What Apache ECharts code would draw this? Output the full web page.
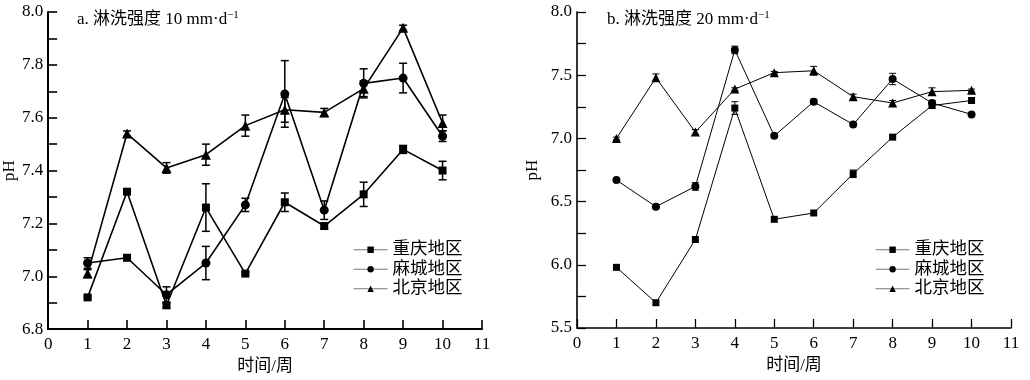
<!DOCTYPE html>
<html>
<head>
<meta charset="utf-8">
<script src="https://cdn.jsdelivr.net/npm/echarts@6/dist/echarts.min.js"></script>
<style>html,body{margin:0;padding:0;background:#fff}#c{width:1030px;height:380px}</style>
</head>
<body>
<div id="c"></div>
<script>
// ---- data ----
var weeks = [1, 2, 3, 4, 5, 6, 7, 8, 9, 10];
var seriesNames = ['重庆地区', '麻城地区', '北京地区'];
var xTicks = [0, 1, 2, 3, 4, 5, 6, 7, 8, 9, 10, 11];

// panel a: 10 mm/d
var a_cq = [6.92, 7.32, 6.89, 7.26, 7.01, 7.28, 7.19, 7.31, 7.48, 7.40];
var a_cq_err = [0.005, 0.005, 0.01, 0.09, 0.005, 0.035, 0.01, 0.046, 0.015, 0.035];
var a_mc = [7.05, 7.07, 6.93, 7.05, 7.27, 7.69, 7.25, 7.73, 7.75, 7.53];
var a_mc_err = [0.02, 0.01, 0.03, 0.063, 0.025, 0.126, 0.035, 0.055, 0.056, 0.02];
var a_bj = [7.01, 7.54, 7.41, 7.46, 7.57, 7.63, 7.62, 7.71, 7.94, 7.58];
var a_bj_err = [0.015, 0.01, 0.02, 0.04, 0.04, 0.047, 0.015, 0.03, 0.01, 0.03];

// panel b: 20 mm/d
var b_cq = [5.98, 5.70, 6.20, 7.24, 6.36, 6.41, 6.72, 7.01, 7.26, 7.30];
var b_cq_err = [0, 0, 0, 0.05, 0, 0, 0.03, 0.01, 0.02, 0];
var b_mc = [6.67, 6.46, 6.62, 7.70, 7.02, 7.29, 7.11, 7.47, 7.28, 7.19];
var b_mc_err = [0, 0.01, 0.03, 0.03, 0.01, 0.02, 0, 0.045, 0.02, 0];
var b_bj = [7.00, 7.48, 7.05, 7.39, 7.52, 7.535, 7.33, 7.28, 7.37, 7.38];
var b_bj_err = [0.01, 0.03, 0.02, 0.01, 0.01, 0.035, 0.02, 0.02, 0.03, 0.01];

// ---- chart ----
var FONT = "'Liberation Serif','Noto Sans CJK SC',serif";
var symbols = ['rect', 'circle', 'triangle'];

function pairs(vals) { return weeks.map(function (w, i) { return [w, vals[i]]; }); }
function errData(vals, errs) { return weeks.map(function (w, i) { return [w, vals[i], errs[i]]; }); }

function errSeries(name, vals, errs, gi, capHalf, lw) {
  return {
    type: 'custom', name: name + ' 误差', xAxisIndex: gi, yAxisIndex: gi, z: 3,
    silent: true, legendHoverLink: false,
    data: errData(vals, errs),
    renderItem: function (params, api) {
      var x = api.value(0), y = api.value(1), e = api.value(2);
      if (!e) return null;
      var t = api.coord([x, y + e]), b = api.coord([x, y - e]);
      var st = { stroke: '#000', lineWidth: lw };
      return {
        type: 'group', children: [
          { type: 'line', shape: { x1: t[0], y1: t[1], x2: b[0], y2: b[1] }, style: st },
          { type: 'line', shape: { x1: t[0] - capHalf, y1: t[1], x2: t[0] + capHalf, y2: t[1] }, style: st },
          { type: 'line', shape: { x1: b[0] - capHalf, y1: b[1], x2: b[0] + capHalf, y2: b[1] }, style: st }
        ]
      };
    }
  };
}

function lineSeries(name, vals, gi, si, lw, sizes) {
  return {
    type: 'line', name: name, xAxisIndex: gi, yAxisIndex: gi, z: 4,
    data: pairs(vals), symbol: symbols[si], symbolSize: sizes[si],
    showAllSymbol: true,
    lineStyle: { color: '#000', width: lw },
    itemStyle: { color: '#000', borderWidth: 0 },
    emphasis: { disabled: true }, animation: false
  };
}

var linesA = [], linesB = [], errs = [];
var aVals = [a_cq, a_mc, a_bj], aErr = [a_cq_err, a_mc_err, a_bj_err];
var bVals = [b_cq, b_mc, b_bj], bErr = [b_cq_err, b_mc_err, b_bj_err];
for (var s = 0; s < 3; s++) {
  linesA.push(lineSeries(seriesNames[s], aVals[s], 0, s, 1.6, [8, 9, 10]));
  linesB.push(lineSeries(seriesNames[s], bVals[s], 1, s, 1, [7, 8, 9]));
  errs.push(errSeries(seriesNames[s], aVals[s], aErr[s], 0, 4, 1.5));
  errs.push(errSeries(seriesNames[s], bVals[s], bErr[s], 1, 3.5, 1));
}
// in the reference, the week-2 point of the 麻城 curve in panel a is drawn with a square marker
linesA[1].data[1] = { value: linesA[1].data[1], symbol: 'rect', symbolSize: 8 };
var seriesList = linesA.concat(linesB, errs);

function xAxisCfg(gi, lw) {
  return {
    type: 'value', gridIndex: gi, min: 0, max: 11, interval: 1,
    name: '时间/周', nameLocation: 'middle', nameGap: 19,
    nameTextStyle: { fontFamily: FONT, fontSize: 17, color: '#000' },
    axisLine: { show: true, lineStyle: { color: '#000', width: lw } },
    axisTick: { show: true, inside: true, length: 9, lineStyle: { color: '#000', width: lw * 0.8 } },
    axisLabel: { fontFamily: FONT, fontSize: 17, color: '#000', margin: 7, showMinLabel: true, showMaxLabel: true },
    splitLine: { show: false }
  };
}
function yAxisCfg(gi, min, max, step, labelStep, lw, gap) {
  return {
    type: 'value', gridIndex: gi, min: min, max: max, interval: step,
    name: 'pH', nameLocation: 'middle', nameGap: gap, nameRotate: 90,
    nameTextStyle: { fontFamily: FONT, fontSize: 17, color: '#000' },
    axisLine: { show: true, lineStyle: { color: '#000', width: lw } },
    axisTick: { show: true, inside: true, length: 9, lineStyle: { color: '#000', width: lw * 0.8 } },
    axisLabel: {
      fontFamily: FONT, fontSize: 17, color: '#000', margin: 5,
      formatter: function (v) {
        var k = Math.round((v - min) / labelStep * 1000) / 1000;
        return Math.abs(k - Math.round(k)) < 1e-6 ? v.toFixed(1) : '';
      }
    },
    splitLine: { show: false }
  };
}

function legendCfg(left) {
  return {
    data: seriesNames, orient: 'vertical', left: left, top: 236,
    itemWidth: 34, itemHeight: 8, itemGap: 2,
    lineStyle: { color: '#777', width: 1.2 },
    itemStyle: { color: '#000' },
    selectedMode: false,
    textStyle: { fontFamily: FONT, fontSize: 17.5, color: '#000', lineHeight: 17.5 }
  };
}

var titleRich = { sup: { fontFamily: FONT, fontSize: 11, verticalAlign: 'top', lineHeight: 19, padding: [0, 0, 7, 0], color: '#000' } };

var option = {
  animation: false,
  backgroundColor: '#fff',
  title: [
    { text: 'a. 淋洗强度 10 mm·d{sup|−1}', left: 72, top: 5, textStyle: { fontFamily: FONT, fontSize: 17, fontWeight: 'normal', color: '#000', lineHeight: 19, rich: titleRich } },
    { text: 'b. 淋洗强度 20 mm·d{sup|−1}', left: 602, top: 5, textStyle: { fontFamily: FONT, fontSize: 17, fontWeight: 'normal', color: '#000', lineHeight: 19, rich: titleRich } }
  ],
  legend: [legendCfg(348), legendCfg(870)],
  grid: [
    { left: 43, top: 12, width: 439, height: 318, containLabel: false },
    { left: 577, top: 12, width: 434, height: 316, containLabel: false }
  ],
  xAxis: [xAxisCfg(0, 2), xAxisCfg(1, 1.6)],
  yAxis: [yAxisCfg(0, 6.8, 8.0, 0.1, 0.2, 2, 27), yAxisCfg(1, 5.5, 8.0, 0.25, 0.5, 1.6, 36)],
  series: seriesList
};

var chart = echarts.init(document.getElementById('c'), null, { renderer: 'canvas' });
chart.setOption(option);
</script>
</body>
</html>
